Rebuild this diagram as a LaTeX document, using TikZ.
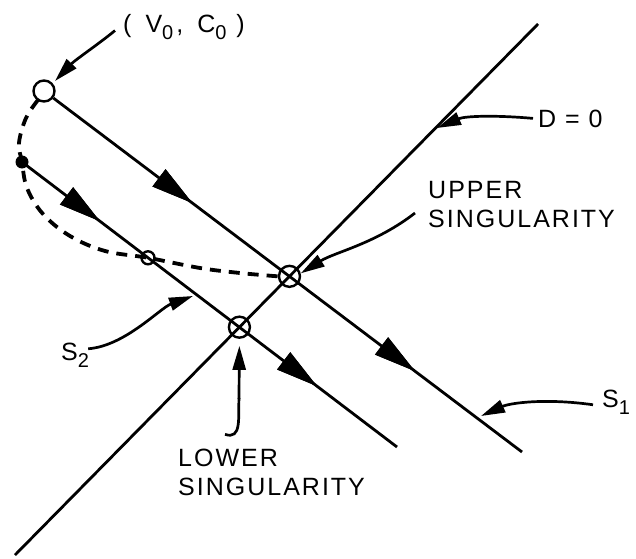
\documentclass[tikz,border=0pt]{standalone}
\usepackage{fontspec}
\setmainfont{Liberation Sans}
\newfontfamily\lbl[LetterSpace=8]{Liberation Sans}
\usetikzlibrary{arrows.meta,decorations.markings}
\newcommand{\sbx}[1]{\raisebox{-7pt}{\fontsize{20}{20}\selectfont #1}}
\begin{document}
\begin{tikzpicture}[x=1pt,y=1pt,
  main/.style={line width=2.8pt},
  lead/.style={line width=2.7pt,-{Triangle[length=24pt,width=13pt]}},
  dashcurve/.style={line width=3.8pt,dash pattern=on 11pt off 8pt},
  ring/.style={circle,draw,line width=2.4pt,minimum size=21pt,inner sep=0pt},
  lab/.style={font=\fontsize{25}{29}\selectfont\lbl,inner sep=0pt,align=left},
  bighead/.style={decoration={markings,
     mark=at position #1 with {\arrow{Triangle[length=42pt,width=21pt]}}},postaction={decorate}}
]
\useasboundingbox (0,0) rectangle (636,558);
% line end points
\coordinate (d0a) at (15,3);
\coordinate (d0b) at (538,534);
\node[ring] (v0) at (44,467) {};
\coordinate (s1e) at (522,106);
\node[circle,fill,minimum size=13pt,inner sep=0pt] (dot) at (22,396) {};
\coordinate (s2e) at (397,111);
\coordinate (upc) at (intersection of d0a--d0b and v0.center--s1e);
\coordinate (loc) at (intersection of d0a--d0b and dot.center--s2e);
\node[ring] (up) at (upc) {};
\node[ring] (lo) at (loc) {};
\node[ring,minimum size=13pt] (sm) at (148,300.2) {};
% main lines
\draw[main] (d0a) -- (d0b);
\draw[main,bighead=0.297,bighead=0.772] (v0) -- (s1e);
\draw[main,bighead=0.208,bighead=0.787] (dot.center) -- (s2e);
% dashed trajectory
\draw[dashcurve] plot[smooth,tension=0.6] coordinates {(38,458) (26,440) (19,415) (dot.center) (27,370) (43,344) (70,322) (105,307) (sm.center) (200,290) (240,285) (up.west)};
% labels
\node[lab,anchor=base west] (v0lab) at (123,525) {(\hspace{14pt}V\sbx{0}\hspace{3pt},\hspace{14pt}C\sbx{0}\hspace{10pt})};
\node[lab,anchor=base west] (dlab) at (538,431) {D = 0};
\node[lab,anchor=base west] (ulab) at (428,331) {UPPER\\SINGULARITY};
\node[lab,anchor=base west] (llab) at (178,63) {LOWER\\SINGULARITY};
\node[lab,anchor=base west] (s1lab) at (602,151) {S\sbx{1}};
\node[lab,anchor=base west] (s2lab) at (61,198) {S\sbx{2}};
\coordinate (s1pt) at (481,142);
\coordinate (s2pt) at (193,262);
\coordinate (dpt) at (437,430);
% leaders
\draw[lead] ([xshift=-8pt,yshift=-3pt]v0lab.west) .. controls (100,515) and (75,498) .. (55,477);
\draw[lead] ([xshift=-5pt]dlab.west) .. controls (495,443) and (465,442) .. (dpt);
\draw[lead] ([xshift=-13pt,yshift=-9pt]ulab.west) .. controls (375,314) and (335,306) .. (up.15);
\draw[lead] ([xshift=-9pt,yshift=-3pt]s1lab.west) .. controls (545,160) and (510,155) .. (s1pt);
\draw[lead] ([xshift=-1pt,yshift=6pt]s2lab.east) .. controls (125,212) and (160,250) .. (s2pt);
\draw[line width=2.7pt] ([xshift=47pt,yshift=14pt]llab.north west) .. controls (242,118) and (238,140) .. (239,160);
\draw[lead,shorten >=7pt] (239,159) -- (lo.south);
\end{tikzpicture}
\end{document}
